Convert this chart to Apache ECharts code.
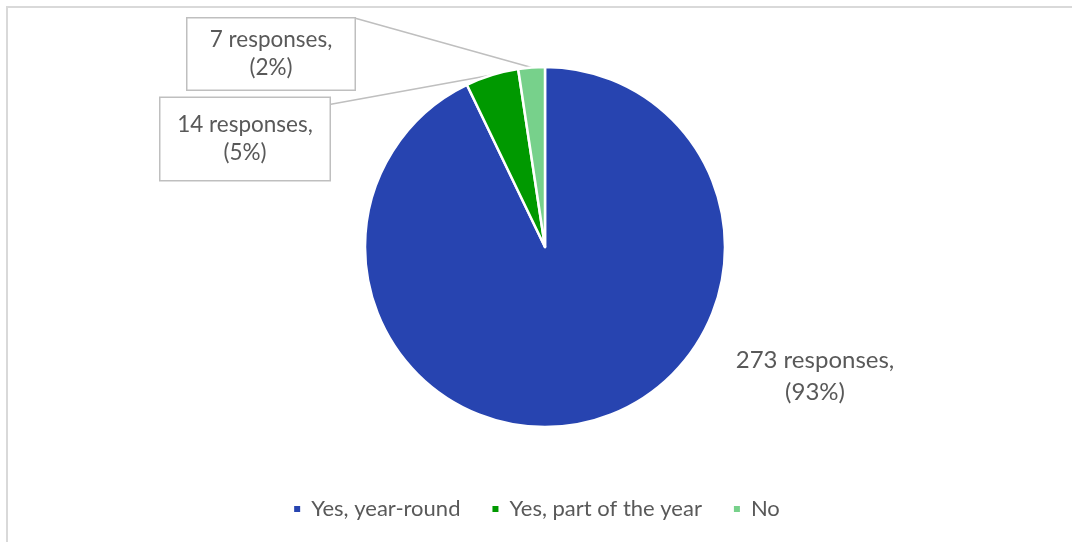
<!DOCTYPE html>
<html>
<head>
<meta charset="utf-8">
<script src="https://cdn.jsdelivr.net/npm/echarts@6/dist/echarts.min.js"></script>
<style>
  html, body { margin: 0; padding: 0; background: #ffffff; }
  #chart { width: 1072px; height: 542px; }
</style>
</head>
<body>
<div id="chart"></div>
<script>
// Survey answers and their response counts
const categories = ['Yes, year-round', 'Yes, part of the year', 'No'];
const responses = [273, 14, 7];
const percents = [93, 5, 2];
const colors = ['#2744B0', '#009900', '#77D18B'];

// Where each data label sits (centre of the label) and whether it is boxed
const labelSpots = [
  { x: 815, y: 376, boxed: false, size: 24, lh: 32 },
  { x: 245, y: 139, boxed: true, w: 169, pad: [14, 0, 12, 0], size: 22.5, lh: 28 },
  { x: 271, y: 54, boxed: true, w: 167, pad: [9, 0, 6, 0], size: 22.5, lh: 28 }
];

const textColor = '#595959';
const fontFamily = 'Lato, "Open Sans", sans-serif';

const data = categories.map((name, i) => {
  const spot = labelSpots[i];
  const label = {
    formatter: responses[i] + ' responses,\n(' + percents[i] + '%)',
    color: textColor,
    fontSize: spot.size,
    lineHeight: spot.lh,
    fontFamily: fontFamily,
    align: 'center'
  };
  if (spot.boxed) {
    Object.assign(label, {
      width: spot.w,
      backgroundColor: '#ffffff',
      borderColor: '#bfbfbf',
      borderWidth: 1.5,
      padding: spot.pad
    });
  }
  return {
    name: name,
    value: responses[i],
    itemStyle: { color: colors[i] },
    label: label,
    labelLine: { show: spot.boxed }
  };
});

const chart = echarts.init(document.getElementById('chart'), null, { renderer: 'canvas' });

chart.setOption({
  animation: false,
  backgroundColor: '#ffffff',
  graphic: [{
    type: 'rect',
    silent: true,
    z: -10,
    shape: { x: 7, y: 7, width: 2000, height: 2000 },
    style: { fill: 'none', stroke: '#d9d9d9', lineWidth: 2 }
  }],
  legend: {
    data: categories,
    bottom: 17,
    left: 'center',
    icon: 'rect',
    itemWidth: 8,
    itemHeight: 8,
    itemGap: 30,
    textStyle: {
      color: textColor,
      fontSize: 22,
      fontFamily: fontFamily,
      padding: [0, 0, 0, 5]
    }
  },
  series: [{
    type: 'pie',
    center: [545, 247],
    radius: 180,
    startAngle: 90,
    clockwise: true,
    avoidLabelOverlap: false,
    itemStyle: { borderColor: '#ffffff', borderWidth: 2.5 },
    label: { show: true, position: 'outside' },
    labelLine: {
      show: true,
      length: 10,
      length2: 10,
      lineStyle: { color: '#bfbfbf', width: 1.5 }
    },
    labelLayout: function (params) {
      const spot = labelSpots[params.dataIndex];
      const out = { x: spot.x, y: spot.y, align: 'center', verticalAlign: 'middle' };
      if (spot.boxed && params.labelLinePoints) {
        const p0 = params.labelLinePoints[0];
        const r = params.labelRect;
        // attach the leader line to the box's right edge near its top corner
        const hx = spot.w / 2;
        const hy = r.height / 2;
        const corner = [spot.x + hx, spot.y - hy + (params.dataIndex === 1 ? 8 : 1)];
        out.labelLinePoints = [p0, p0, corner];
      }
      return out;
    },
    data: data
  }]
});
</script>
</body>
</html>
